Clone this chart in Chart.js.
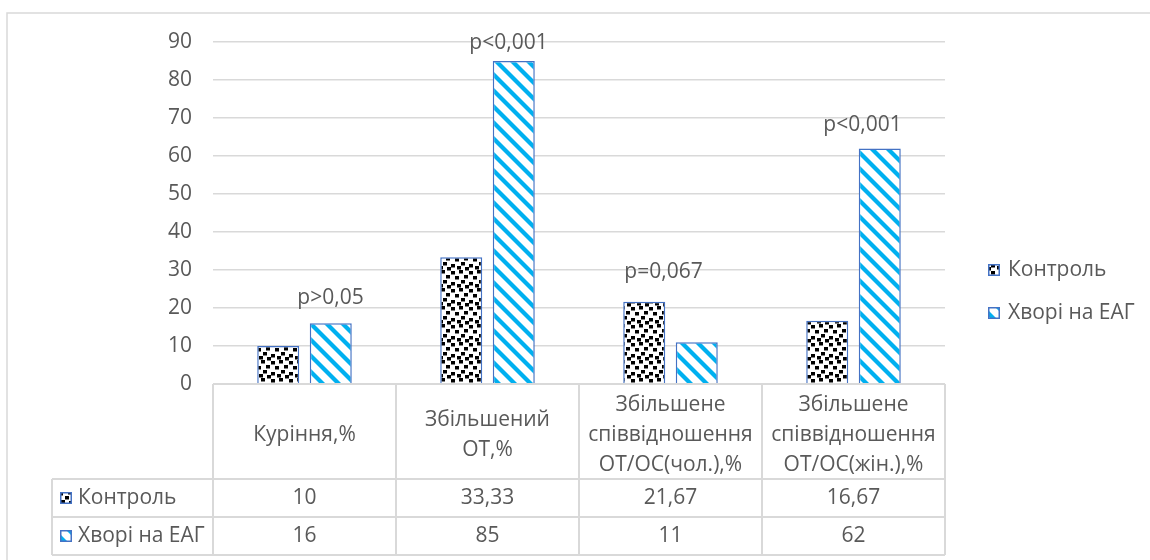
<!DOCTYPE html>
<html>
<head>
<meta charset="utf-8">
<script src="https://cdn.jsdelivr.net/npm/chart.js@4/dist/chart.umd.min.js"></script>
<style>
  html, body { margin: 0; padding: 0; background: #ffffff; }
  #wrap { width: 1150px; height: 560px; position: relative; }
</style>
</head>
<body>
<div id="wrap"><canvas id="c" width="1150" height="560"></canvas></div>
<script>
// Categories (multi-line header text for the data table)
const categories = [
  ["Куріння,%"],
  ["Збільшений", "ОТ,%"],
  ["Збільшене", "співвідношення", "ОТ/ОС(чол.),%"],
  ["Збільшене", "співвідношення", "ОТ/ОС(жін.),%"]
];
const seriesNames = ["Контроль", "Хворі на ЕАГ"];
const controlValues = [10, 33.33, 21.67, 16.67];
const patientValues = [16, 85, 11, 62];
const pLabels = ["p>0,05", "p<0,001", "p=0,067", "p<0,001"];
const yMin = 0, yMax = 90, yStep = 10;

// Styling
const TEXT = "#595959";
const GRID = "#d9d9d9";
const EDGE = "#4472C4";
const STRIPE = "#00B0F0";
const FONT_FAMILY = '"Open Sans", "Noto Sans", sans-serif';
const FONT_SIZE = 21;

// p-label placement: offset from the taller bar of each group [dx from group centre, dy above top]
const pLabelOffsets = [[26, -25], [21, -18], [-7, -30], [9, -23]];

function confettiPattern(ctx) {
  const n = 18;
  const c = document.createElement("canvas");
  c.width = n; c.height = n;
  const g = c.getContext("2d");
  g.fillStyle = "#ffffff";
  g.fillRect(0, 0, n, n);
  g.fillStyle = "#000000";
  const dots = [[1, 1], [9, 0], [14, 5], [5, 6], [11, 10], [1, 12], [7, 14], [15, 15]];
  dots.forEach(([x, y]) => {
    for (const ox of [0, -n]) for (const oy of [0, -n]) g.fillRect(x + ox, y + oy, 4, 3.5);
  });
  return ctx.createPattern(c, "repeat");
}

function stripePattern(ctx) {
  const c = document.createElement("canvas");
  c.width = 16; c.height = 16;
  const g = c.getContext("2d");
  g.fillStyle = "#ffffff";
  g.fillRect(0, 0, 16, 16);
  g.fillStyle = STRIPE;
  const w = 6;
  [-16, 0, 16].forEach(x0 => {
    g.beginPath();
    g.moveTo(x0, 0);
    g.lineTo(x0 + w, 0);
    g.lineTo(x0 + w + 16, 16);
    g.lineTo(x0 + 16, 16);
    g.closePath();
    g.fill();
  });
  return ctx.createPattern(c, "repeat");
}

const canvas = document.getElementById("c");
const ctx0 = canvas.getContext("2d");
const fills = [confettiPattern(ctx0), stripePattern(ctx0)];

function fmt(v) { return String(v).replace(".", ","); }

function drawMarker(ctx, x, y, fill) {
  ctx.save();
  ctx.fillStyle = fill;
  ctx.fillRect(x, y, 12, 12);
  ctx.strokeStyle = EDGE;
  ctx.lineWidth = 1.5;
  ctx.strokeRect(x + 0.75, y + 0.75, 10.5, 10.5);
  ctx.restore();
}

const decorations = {
  id: "decorations",
  afterDraw(chart) {
    const ctx = chart.ctx;
    const xs = chart.scales.x;
    const ys = chart.scales.y;
    const area = chart.chartArea;
    ctx.save();
    ctx.font = FONT_SIZE + "px " + FONT_FAMILY;
    ctx.fillStyle = TEXT;
    ctx.textAlign = "center";
    ctx.textBaseline = "middle";

    // p-value labels above each group
    const half = (xs.getPixelForValue(1) - xs.getPixelForValue(0)) / 2;
    pLabels.forEach((t, i) => {
      const cx = xs.getPixelForValue(i);
      const top = ys.getPixelForValue(Math.max(controlValues[i], patientValues[i]));
      const [dx, dy] = pLabelOffsets[i];
      ctx.fillText(t, cx + dx, top + dy);
    });

    // outer frame
    ctx.strokeStyle = GRID;
    ctx.lineWidth = 1.5;
    ctx.beginPath();
    ctx.moveTo(7, 560); ctx.lineTo(7, 13); ctx.lineTo(1150, 13);
    ctx.stroke();

    // data table
    const bottom = area.bottom;
    const headerBottom = 479, row1Bottom = 517, row2Bottom = 555;
    const tableLeft = 52;
    const colEdges = [];
    for (let i = 0; i < categories.length; i++) colEdges.push(xs.getPixelForValue(i) - half);
    colEdges.push(xs.getPixelForValue(categories.length - 1) + half);

    ctx.lineWidth = 2;
    ctx.beginPath();
    colEdges.forEach(x => { ctx.moveTo(x, bottom); ctx.lineTo(x, row2Bottom); });
    ctx.moveTo(tableLeft, headerBottom); ctx.lineTo(tableLeft, row2Bottom);
    [headerBottom, row1Bottom, row2Bottom].forEach(y => {
      ctx.moveTo(tableLeft, y); ctx.lineTo(colEdges[colEdges.length - 1], y);
    });
    ctx.moveTo(colEdges[0], bottom); ctx.lineTo(colEdges[colEdges.length - 1], bottom);
    ctx.stroke();

    // header text
    const lineH = 30;
    const headMid = (bottom + headerBottom) / 2 + 4;
    categories.forEach((lines, i) => {
      const cx = xs.getPixelForValue(i);
      const y0 = headMid - (lines.length - 1) * lineH / 2;
      lines.forEach((ln, k) => ctx.fillText(ln, cx, y0 + k * lineH));
    });

    // value rows
    const rows = [controlValues, patientValues];
    const rowMid = [(headerBottom + row1Bottom) / 2, (row1Bottom + row2Bottom) / 2];
    rows.forEach((vals, r) => {
      vals.forEach((v, i) => ctx.fillText(fmt(v), xs.getPixelForValue(i), rowMid[r]));
      drawMarker(ctx, 60, rowMid[r] - 6, fills[r]);
      ctx.textAlign = "left";
      ctx.fillText(seriesNames[r], 78, rowMid[r]);
      ctx.textAlign = "center";
    });

    // legend
    const legendY = [270, 313];
    seriesNames.forEach((name, r) => {
      drawMarker(ctx, 988, legendY[r] - 6, fills[r]);
      ctx.textAlign = "left";
      ctx.fillText(name, 1008, legendY[r]);
    });
    ctx.restore();
  }
};

new Chart(canvas, {
  type: "bar",
  data: {
    labels: categories.map(c => c.join(" ")),
    datasets: [
      { label: seriesNames[0], data: controlValues, backgroundColor: fills[0], borderColor: EDGE, borderWidth: 1.5, categoryPercentage: 0.574, barPercentage: 0.8 },
      { label: seriesNames[1], data: patientValues, backgroundColor: fills[1], borderColor: EDGE, borderWidth: 1.5, categoryPercentage: 0.574, barPercentage: 0.8 }
    ]
  },
  options: {
    responsive: false,
    animation: false,
    layout: { padding: { left: 0, right: 205, top: 42, bottom: 176 } },
    plugins: { legend: { display: false }, tooltip: { enabled: false } },
    scales: {
      x: { display: false },
      y: {
        min: yMin, max: yMax,
        ticks: { stepSize: yStep, color: TEXT, padding: 21, font: { family: FONT_FAMILY, size: FONT_SIZE } },
        grid: { color: GRID, lineWidth: 1.5, drawTicks: false },
        border: { display: false },
        afterFit(s) { s.width = 213; }
      }
    }
  },
  plugins: [decorations]
});
</script>
</body>
</html>
